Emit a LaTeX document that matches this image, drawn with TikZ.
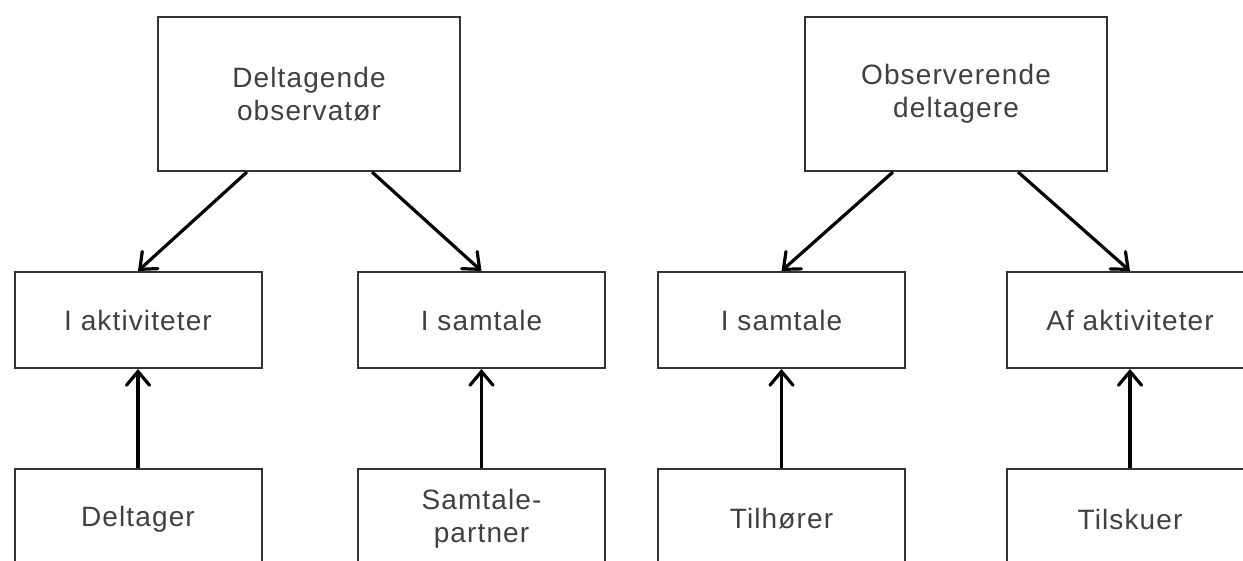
\documentclass[tikz,border=0pt]{standalone}
\usepackage{fontspec}
\setmainfont{Liberation Sans}[LetterSpace=4]
\usetikzlibrary{arrows.meta}
\definecolor{boxline}{HTML}{333333}
\definecolor{txt}{HTML}{404040}
\tikzset{
  box/.style={draw=boxline, line width=2pt, rectangle, inner sep=0pt, align=center,
    text=txt, font=\fontsize{28}{33}\selectfont, minimum height=96pt, minimum width=247pt},
  lowbox/.style={box, minimum height=100pt},
  bigbox/.style={box, minimum height=154pt, minimum width=302pt},
  arr/.style={line width=3.2pt, black, -{Straight Barb[angle=80:18pt, line cap=round, line join=miter]}}
}
\begin{document}
\begin{tikzpicture}[x=1pt,y=-1pt]
\useasboundingbox (0,0) rectangle (1243,561);
\clip (0,0) rectangle (1243,561);
\fill[white] (0,0) rectangle (1243,561);
\node[bigbox] (tl) at (309,94) {Deltagende\\observatør};
\node[bigbox] (tr) at (956,94) {Observerende\\deltagere};
\node[box] (m1) at (138,320) {I aktiviteter};
\node[box] (m2) at (481.5,320) {I samtale};
\node[box] (m3) at (781.5,320) {I samtale};
\node[box] (m4) at (1130,320) {Af aktiviteter};
\node[lowbox] (b1) at (138,519) {Deltager};
\node[lowbox] (b2) at (481.5,519) {Samtale-\\partner};
\node[lowbox] (b3) at (781.5,519) {Tilhører};
\node[lowbox] (b4) at (1130,519) {Tilskuer};
\draw[arr] ([xshift=-62pt]tl.south) -- (m1.north);
\draw[arr] ([xshift=63pt]tl.south) -- (m2.north);
\draw[arr] ([xshift=-63pt]tr.south) -- (m3.north);
\draw[arr] ([xshift=62pt]tr.south) -- (m4.north);
\draw[arr] (b1.north) -- (m1.south);
\draw[arr] (b2.north) -- (m2.south);
\draw[arr] (b3.north) -- (m3.south);
\draw[arr] (b4.north) -- (m4.south);
\end{tikzpicture}
\end{document}
